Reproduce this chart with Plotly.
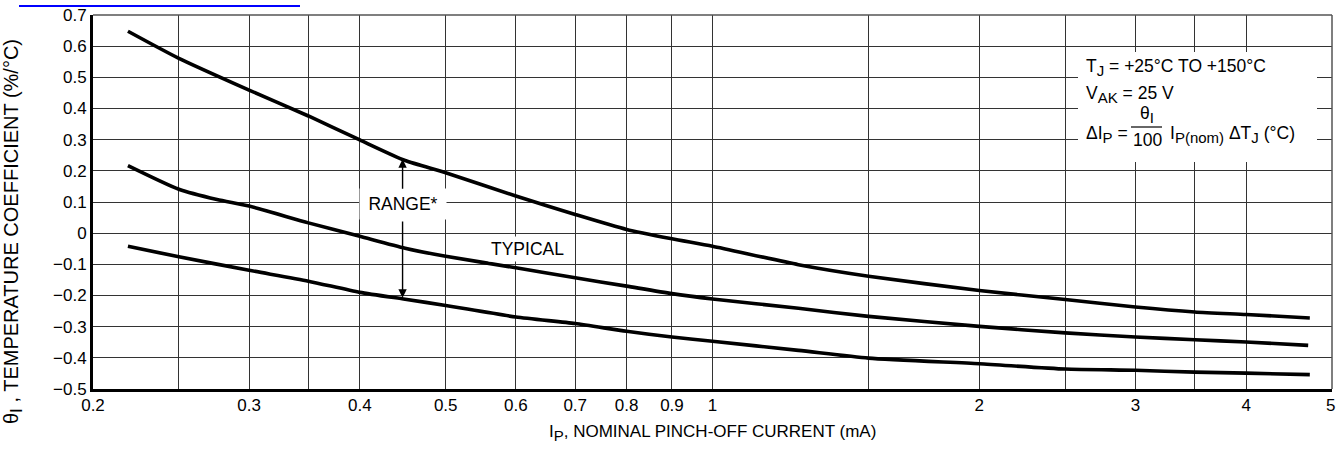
import math
import plotly.graph_objects as go

# ---- data ----
x_upper = [0.219, 0.25, 0.3, 0.35, 0.4, 0.45, 0.5, 0.6, 0.7, 0.8, 0.9, 1.0, 1.25, 1.5, 2.0, 2.5, 3.0, 3.5, 4.0, 4.72]
y_upper = [0.648, 0.561, 0.459, 0.376, 0.299, 0.233, 0.194, 0.119, 0.060, 0.012, -0.018, -0.042, -0.101, -0.138, -0.184, -0.213, -0.237, -0.253, -0.261, -0.272]

x_typical = [0.219, 0.25, 0.276, 0.3, 0.35, 0.4, 0.45, 0.5, 0.6, 0.7, 0.8, 0.9, 1.0, 1.25, 1.5, 2.0, 2.5, 3.0, 3.5, 4.0, 4.70]
y_typical = [0.217, 0.141, 0.108, 0.087, 0.033, -0.010, -0.048, -0.074, -0.111, -0.143, -0.170, -0.194, -0.211, -0.241, -0.267, -0.299, -0.320, -0.333, -0.342, -0.349, -0.360]

x_lower = [0.219, 0.25, 0.3, 0.35, 0.4, 0.45, 0.5, 0.6, 0.7, 0.8, 0.9, 1.0, 1.25, 1.5, 2.0, 2.5, 3.0, 3.5, 4.0, 4.72]
y_lower = [-0.042, -0.076, -0.119, -0.154, -0.190, -0.212, -0.232, -0.269, -0.290, -0.315, -0.333, -0.347, -0.376, -0.401, -0.419, -0.436, -0.440, -0.446, -0.449, -0.454]

x_grid = [0.2, 0.25, 0.3, 0.35, 0.4, 0.5, 0.6, 0.7, 0.8, 0.9, 1, 1.5, 2, 2.5, 3, 3.5, 4]
x_grid_text = ["0.2", "", "0.3", "", "0.4", "0.5", "0.6", "0.7", "0.8", "0.9", "1", "", "2", "", "3", "", "4"]
x_end_tick = 5
x_end_text = "5"
y_ticks = [-0.5, -0.4, -0.3, -0.2, -0.1, 0, 0.1, 0.2, 0.3, 0.4, 0.5, 0.6, 0.7]
y_tick_text = ["\u22120.5", "\u22120.4", "\u22120.3", "\u22120.2", "\u22120.1", "0", "0.1", "0.2", "0.3", "0.4", "0.5", "0.6", "0.7"]

range_x = 0.447
range_top, range_bottom = 0.237, -0.207
range_label_y = 0.092
typical_x, typical_y = 0.619, -0.052

FONT = "Liberation Sans, Arial, sans-serif"
W, H = 1338, 455
L, R, T, B = 93, 6, 15, 66
PW, PH = W - L - R, H - T - B


def px(xp):
    return (xp - L) / PW


def py(yp):
    return (H - B - yp) / PH


def sub(s, size=15):
    return "<sub><span style='font-size:%dpx'>%s</span></sub>" % (size, s)


fig = go.Figure()
for xs, ys in [(x_upper, y_upper), (x_typical, y_typical), (x_lower, y_lower)]:
    fig.add_trace(go.Scatter(x=xs, y=ys, mode="lines",
                             line=dict(color="black", width=3.6, shape="spline", smoothing=0.6),
                             showlegend=False, hoverinfo="skip"))

fig.update_layout(
    width=W, height=H,
    margin=dict(l=L, r=R, t=T, b=B, pad=0),
    paper_bgcolor="white", plot_bgcolor="white",
    font=dict(family=FONT, size=17, color="black"),
    showlegend=False,
)
fig.update_xaxes(type="log", range=[math.log10(0.2) - 1e-6, math.log10(x_end_tick)],
                 tickvals=x_grid, ticktext=x_grid_text,
                 showgrid=True, gridcolor="#333333", gridwidth=1.4,
                 showline=True, linecolor="black", linewidth=3,
                 ticks="", zeroline=False, ticklabelstandoff=-1,
                 ticklabeloverflow="allow",
                 tickfont=dict(family=FONT, size=17, color="black"))
fig.update_yaxes(range=[-0.5, 0.7], tickvals=y_ticks, ticktext=y_tick_text,
                 showgrid=True, gridcolor="#333333", gridwidth=1.4,
                 showline=True, linecolor="black", linewidth=3,
                 ticks="", zeroline=False, ticklabeloverflow="allow",
                 tickfont=dict(family=FONT, size=17, color="black"))

shapes = []
# top and right thin frame
shapes.append(dict(type="line", xref="paper", yref="paper", x0=0, x1=1, y0=1, y1=1,
                   line=dict(color="#555555", width=1.5)))
shapes.append(dict(type="line", xref="paper", yref="paper", x0=1, x1=1, y0=0, y1=1,
                   line=dict(color="#555555", width=1.5)))
# white box behind condition text
shapes.append(dict(type="rect", xref="paper", yref="paper", x0=px(1078), x1=px(1317),
                   y0=py(162), y1=py(52), fillcolor="white", line=dict(width=0), layer="above"))
# fraction bar
shapes.append(dict(type="line", xref="paper", yref="paper", x0=px(1131), x1=px(1162),
                   y0=py(127), y1=py(127), line=dict(color="black", width=1.2), layer="above"))
# blue line at top
shapes.append(dict(type="line", xref="paper", yref="paper", x0=px(19), x1=px(300),
                   y0=py(6), y1=py(6), line=dict(color="#0000ff", width=2)))
fig.update_layout(shapes=shapes)

ann = []
lx = math.log10
AF = 17.5
# end tick label "5" at the right edge of the axis (kept inside the page)
ann.append(dict(x=px(1337), y=py(405), xref="paper", yref="paper", xanchor="right",
                yanchor="middle", text=x_end_text, showarrow=False, font=dict(size=17)))
ann.append(dict(x=lx(range_x), y=range_label_y, xref="x", yref="y", text="RANGE*",
                showarrow=False, bgcolor="white", width=76, height=20, borderpad=5,
                font=dict(size=AF)))
ann.append(dict(x=lx(range_x), y=range_top, ax=lx(range_x), ay=0.138, xref="x", yref="y",
                axref="x", ayref="y", text="", showarrow=True, arrowhead=2, arrowsize=1.2,
                arrowwidth=1.4, arrowcolor="black", standoff=0, startstandoff=0))
ann.append(dict(x=lx(range_x), y=range_bottom, ax=lx(range_x), ay=0.042, xref="x", yref="y",
                axref="x", ayref="y", text="", showarrow=True, arrowhead=2, arrowsize=1.2,
                arrowwidth=1.4, arrowcolor="black", standoff=0, startstandoff=0))
ann.append(dict(x=lx(typical_x), y=typical_y, xref="x", yref="y", text="TYPICAL",
                showarrow=False, bgcolor="white", borderpad=2, font=dict(size=AF)))

ann.append(dict(x=px(1084), y=py(67), xref="paper", yref="paper", xanchor="left", yanchor="middle",
                text="T" + sub("J") + " = +25\u00b0C TO +150\u00b0C", showarrow=False, font=dict(size=AF)))
ann.append(dict(x=px(1084), y=py(95), xref="paper", yref="paper", xanchor="left", yanchor="middle",
                text="V" + sub("AK") + " = 25 V", showarrow=False, font=dict(size=AF)))
ann.append(dict(x=px(1084), y=py(134), xref="paper", yref="paper", xanchor="left", yanchor="middle",
                text="\u0394I" + sub("P") + " =", showarrow=False, font=dict(size=AF)))
ann.append(dict(x=px(1147), y=py(115), xref="paper", yref="paper", xanchor="center", yanchor="middle",
                text="\u03b8" + sub("I"), showarrow=False, font=dict(size=AF)))
ann.append(dict(x=px(1147), y=py(140), xref="paper", yref="paper", xanchor="center", yanchor="middle",
                text="100", showarrow=False, font=dict(size=AF)))
ann.append(dict(x=px(1168), y=py(134), xref="paper", yref="paper", xanchor="left", yanchor="middle",
                text="I" + sub("P(nom)") + " \u0394T" + sub("J") + " (\u00b0C)", showarrow=False,
                font=dict(size=AF)))

# axis titles
ann.append(dict(x=0.5, y=py(433), xref="paper", yref="paper", xanchor="center", yanchor="middle",
                text="I" + sub("P") + ", NOMINAL PINCH-OFF CURRENT (mA)", showarrow=False,
                font=dict(size=17)))
ann.append(dict(x=px(13), y=py(232), xref="paper", yref="paper", xanchor="center", yanchor="middle",
                text="\u03b8" + sub("I", 17) + " , TEMPERATURE COEFFICIENT (%/\u00b0C)", showarrow=False,
                textangle=-90, font=dict(size=20)))
fig.update_layout(annotations=ann)

# remove the page's default body margin so the figure sits at the window's top-left corner
fig.write_html("out.html",
               config={"displayModeBar": False},
               post_script="document.body.style.margin='0';document.body.style.overflow='hidden';")
